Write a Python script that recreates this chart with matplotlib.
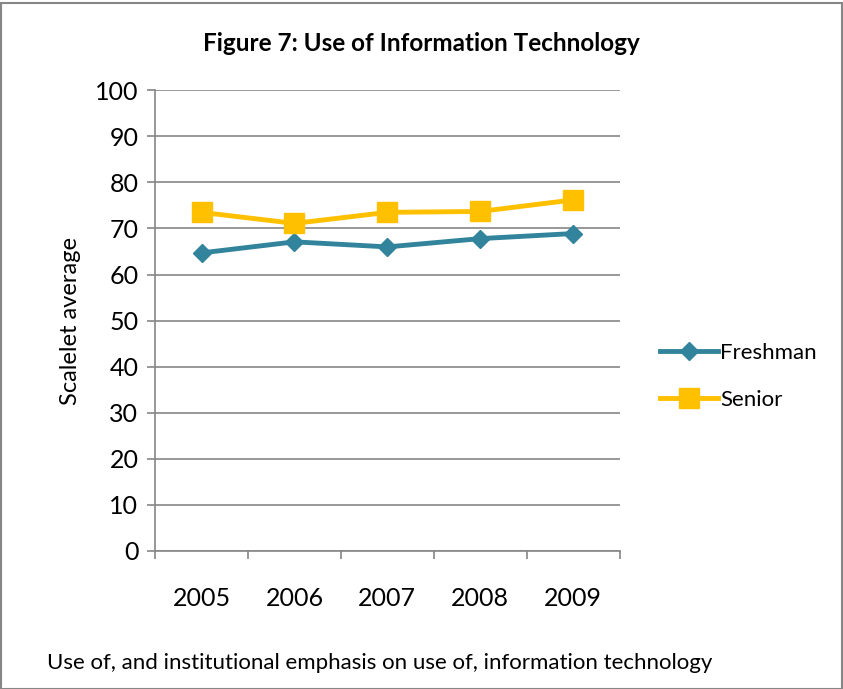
import matplotlib.pyplot as plt
from matplotlib.patches import Rectangle

plt.rcParams['font.family'] = ['Lato', 'DejaVu Sans']

years = ['2005', '2006', '2007', '2008', '2009']
freshman = [64.7, 67.1, 66.0, 67.8, 68.9]
senior = [73.5, 71.1, 73.5, 73.7, 76.2]

teal = '#31849B'
gold = '#FFC000'
grey = '#868686'

fig = plt.figure(figsize=(8.43, 6.89), dpi=100)
ax = fig.add_axes([0.184, 0.2003, 0.551, 0.6687])

x = list(range(len(years)))
ax.plot(x, freshman, '-D', color=teal, lw=3.5, markersize=9, label='Freshman')
ax.plot(x, senior, '-s', color=gold, lw=3.5, markersize=14, label='Senior')

ax.set_xlim(-0.5, len(years) - 0.5)
ax.set_ylim(0, 100)
ax.set_yticks(range(0, 101, 10))
ax.set_xticks(x)
ax.set_xticklabels(years)
ax.set_xticks([i - 0.5 for i in range(len(years) + 1)], minor=True)
ax.tick_params(axis='x', which='major', length=0, pad=26, labelsize=18)
ax.tick_params(axis='x', which='minor', length=6, color=grey, width=1.2, direction='out')
ax.tick_params(axis='y', length=6, color=grey, width=1.2, labelsize=18, pad=6)

ax.grid(axis='y', color=grey, lw=1.2)
ax.set_axisbelow(True)
for s in ['top', 'right']:
    ax.spines[s].set_visible(False)
for s in ['left', 'bottom']:
    ax.spines[s].set_color(grey)
    ax.spines[s].set_linewidth(1.2)

ax.set_ylabel('Scalelet average', fontsize=17, labelpad=10)

fig.text(0.5, 0.937, 'Figure 7: Use of Information Technology', ha='center', va='center',
         fontsize=17.5, fontweight='bold')
fig.text(0.056, 0.038, 'Use of, and institutional emphasis on use of, information technology',
         ha='left', va='center', fontsize=16)

ax.legend(loc='center left', bbox_to_anchor=(0.783, 0.454), bbox_transform=fig.transFigure,
          frameon=False, fontsize=16, handlelength=2.6, handletextpad=0.1, labelspacing=1.2,
          borderpad=0, borderaxespad=0)

fig.patches.append(Rectangle((0.001, 0.0), 0.998, 0.995, transform=fig.transFigure,
                             fill=False, edgecolor=grey, lw=1.5))

fig.savefig('out.png', dpi=100)
